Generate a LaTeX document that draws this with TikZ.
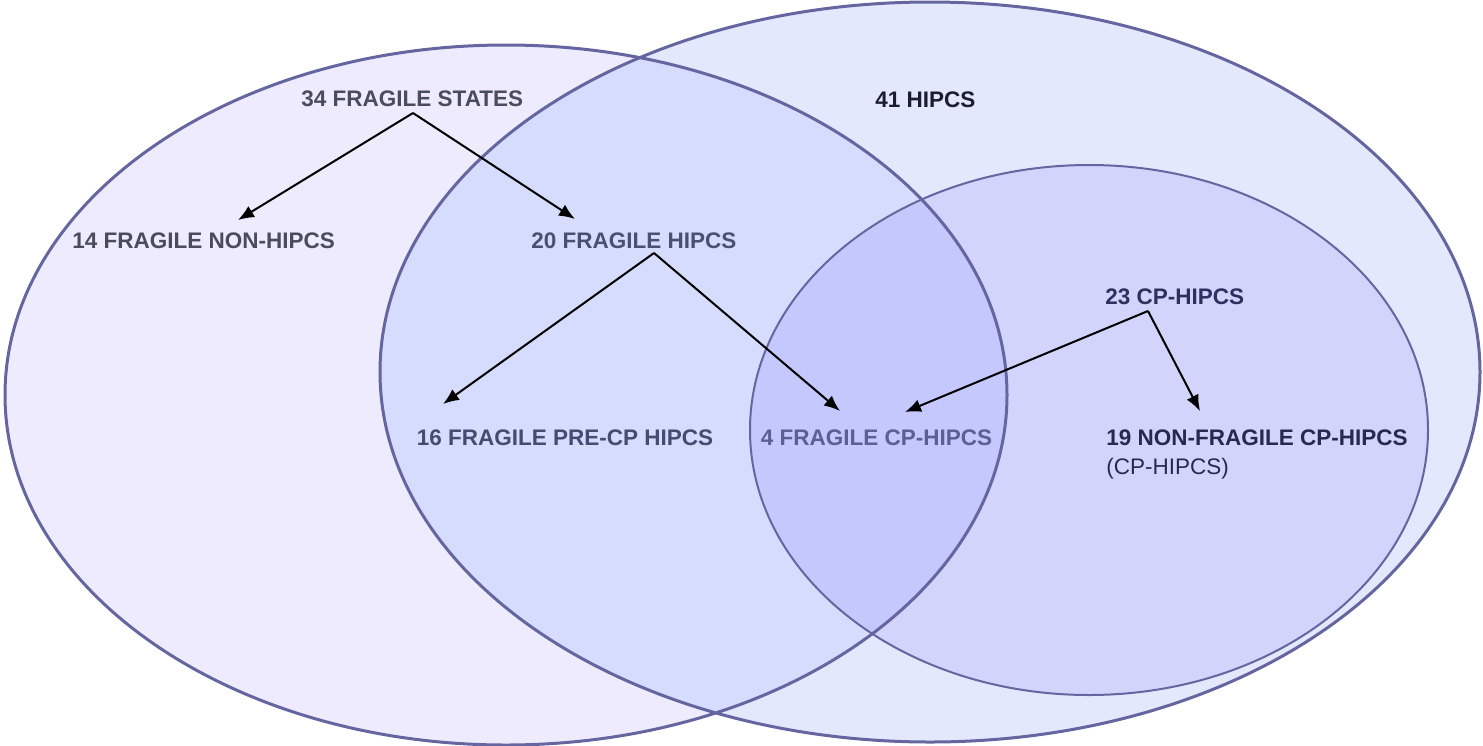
\documentclass[tikz,border=0pt]{standalone}
\usepackage{fontspec}
\setmainfont{Liberation Sans}
\usetikzlibrary{arrows.meta}
\definecolor{leftfill}{HTML}{EDEBFD}
\definecolor{rightfill}{HTML}{E3E8FD}
\definecolor{lrfill}{HTML}{D6DCFD}
\definecolor{smallfill}{HTML}{D2D4FC}
\definecolor{triplefill}{HTML}{C5C8FC}
\definecolor{edge}{HTML}{6566A0}
\definecolor{tA}{HTML}{4B4B5F}
\definecolor{tB}{HTML}{1C1D33}
\definecolor{tC}{HTML}{4A5070}
\definecolor{tD}{HTML}{444C72}
\definecolor{tE}{HTML}{5A5F94}
\definecolor{tF}{HTML}{2C3160}
\definecolor{tG}{HTML}{262A50}
\tikzset{
  lbl/.style={anchor=base west, inner sep=0pt, font=\fontsize{11.25}{14.5}\selectfont\bfseries},
  sub/.style={anchor=base west, inner sep=0pt, font=\fontsize{11.25}{14.5}\selectfont},
  arr/.style={draw=black, line width=1pt, -{Latex[length=8pt,width=6.5pt]}},
  bigedge/.style={draw=edge, line width=1.5pt},
  smalledge/.style={draw=edge, line width=1pt}
}
\begin{document}
\begin{tikzpicture}[x=0.5pt,y=-0.5pt]
\useasboundingbox (0,0) rectangle (1483,745);
% fills
\fill[leftfill] (506,395) ellipse [x radius=250.5pt, y radius=175pt];
\fill[rightfill] (930,372) ellipse [x radius=275pt, y radius=185pt];
\begin{scope}
  \clip (506,395) ellipse [x radius=250.5pt, y radius=175pt];
  \fill[lrfill] (930,372) ellipse [x radius=275pt, y radius=185pt];
\end{scope}
\fill[smallfill] (1089,430) ellipse [x radius=169.5pt, y radius=132.5pt];
\begin{scope}
  \clip (506,395) ellipse [x radius=250.5pt, y radius=175pt];
  \fill[triplefill] (1089,430) ellipse [x radius=169.5pt, y radius=132.5pt];
\end{scope}
% outlines
\draw[smalledge] (1089,430) ellipse [x radius=169.5pt, y radius=132.5pt];
\draw[bigedge] (930,372) ellipse [x radius=275pt, y radius=185pt];
\draw[bigedge] (506,395) ellipse [x radius=250.5pt, y radius=175pt];
% labels
\node[lbl, text=tA] (fs) at (301,106.5) {34 FRAGILE STATES};
\node[lbl, text=tB] (hipcs) at (875,107) {41 HIPCS};
\node[lbl, text=tA] (fnh) at (72,248) {14 FRAGILE NON-HIPCS};
\node[lbl, text=tC] (fh) at (531,248) {20 FRAGILE HIPCS};
\node[lbl, text=tD] (fpre) at (416.5,445) {16 FRAGILE PRE-CP HIPCS};
\node[lbl, text=tE] (fcp) at (760.5,445) {4 FRAGILE CP-HIPCS};
\node[lbl, text=tF] (cp) at (1105,304) {23 CP-HIPCS};
\node[lbl, text=tG] (nfcp) at (1106,445) {19 NON-FRAGILE CP-HIPCS};
\node[sub, text=tG] (nfcpsub) at (1106,474) {(CP-HIPCS)};
% connector points
\coordinate (p1) at (413,113);
\coordinate (t1a) at (238,220);
\coordinate (t1b) at (575,219);
\coordinate (p2) at (654,253);
\coordinate (t2a) at (443,404);
\coordinate (t2b) at (840,411);
\coordinate (p3) at (1148,311);
\coordinate (t3a) at (905,412);
\coordinate (t3b) at (1200,411);
\draw[arr] (p1) -- (t1a);
\draw[arr] (p1) -- (t1b);
\draw[arr] (p2) -- (t2a);
\draw[arr] (p2) -- (t2b);
\draw[arr] (p3) -- (t3a);
\draw[arr] (p3) -- (t3b);
\end{tikzpicture}
\end{document}
